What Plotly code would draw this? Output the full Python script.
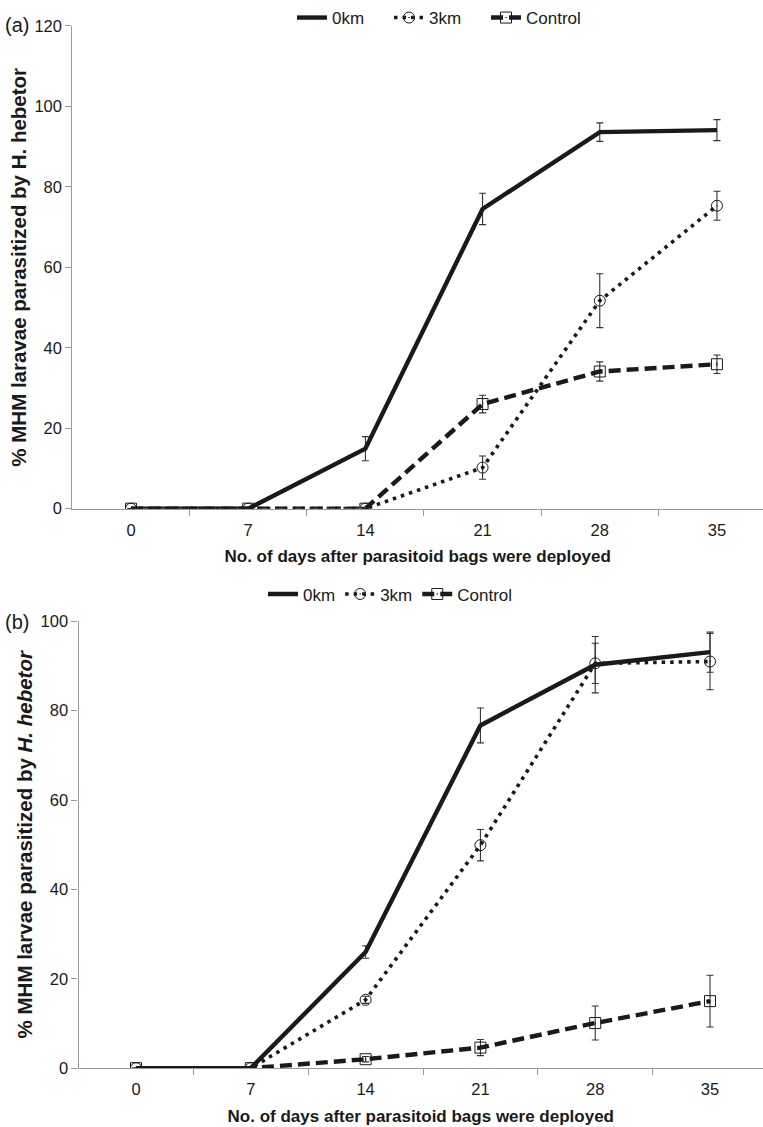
import plotly.graph_objects as go

days = [0, 7, 14, 21, 28, 35]
tick_labels = ["0", "7", "14", "21", "28", "35"]

# Panel (a)
a_0km = [0, 0, 14.9, 74.5, 93.6, 94.1]
a_0km_err = [0, 0, 3.0, 3.9, 2.3, 2.6]
a_3km = [0, 0, 0, 10.2, 51.7, 75.3]
a_3km_err = [0, 0, 0, 2.9, 6.7, 3.6]
a_ctrl = [0, 0, 0, 26.0, 34.1, 35.9]
a_ctrl_err = [0, 0, 0, 2.2, 2.4, 2.3]

# Panel (b)
b_0km = [0, 0, 26.0, 76.7, 90.3, 93.1]
b_0km_err = [0, 0, 1.4, 3.9, 6.3, 4.5]
b_3km = [0, 0, 15.3, 49.9, 90.6, 91.0]
b_3km_err = [0, 0, 0.8, 3.5, 4.5, 6.3]
b_ctrl = [0, 0, 2.0, 4.6, 10.1, 15.0]
b_ctrl_err = [0, 0, 0.6, 1.8, 3.8, 5.8]

W, H = 763, 1127
FONT = "Liberation Sans, Arial, sans-serif"
INK = "#1a1a1a"
AXC = "#9a9a9a"

fig = go.Figure()

styles = {
    "0km": dict(mode="lines", line=dict(color=INK, width=4.4, dash="solid"), marker=None),
    "3km": dict(mode="lines+markers", line=dict(color=INK, width=3.6, dash="3.5px,5px"),
                marker=dict(symbol="circle-open-dot", size=11, color=INK, line=dict(width=1, color=INK))),
    "Control": dict(mode="lines+markers", line=dict(color=INK, width=4.4, dash="12px,6px"),
                    marker=dict(symbol="square-open-dot", size=11, color=INK, line=dict(width=1, color=INK))),
}
rank = {"0km": 1, "3km": 2, "Control": 3}


def add(y, err, name, xa, ya, legend):
    st = styles[name]
    kw = dict(x=days, y=y, name=name, mode=st["mode"], line=st["line"],
              error_y=dict(type="data", array=err, visible=True, color="#333333", thickness=1.1, width=3.5),
              xaxis=xa, yaxis=ya, legend=legend, legendrank=rank[name], showlegend=True)
    if st["marker"] is not None:
        kw["marker"] = st["marker"]
    fig.add_trace(go.Scatter(**kw))


# draw order: 3km, Control, 0km on top
add(a_3km, a_3km_err, "3km", "x", "y", "legend")
add(a_ctrl, a_ctrl_err, "Control", "x", "y", "legend")
add(a_0km, a_0km_err, "0km", "x", "y", "legend")
add(b_3km, b_3km_err, "3km", "x2", "y2", "legend2")
add(b_ctrl, b_ctrl_err, "Control", "x2", "y2", "legend2")
add(b_0km, b_0km_err, "0km", "x2", "y2", "legend2")

between = [3.5, 10.5, 17.5, 24.5, 31.5]

def xaxis(dom, rng, anchor):
    return dict(domain=dom, range=rng, anchor=anchor, showgrid=False, zeroline=False,
                showline=True, linecolor=AXC, linewidth=1.3,
                tickmode="array", tickvals=days, ticktext=tick_labels, ticks="",
                ticklabelstandoff=6,
                tickfont=dict(family=FONT, size=16.5, color=INK),
                minor=dict(tickmode="array", tickvals=between, ticks="outside", ticklen=6,
                           tickcolor=AXC, tickwidth=1.3),
                title=dict(text="<b>No. of days after parasitoid bags were deployed</b>",
                           font=dict(family=FONT, size=17, color=INK), standoff=12),
                automargin=False)


def yaxis(dom, rng, dtick, title, anchor):
    return dict(domain=dom, range=rng, anchor=anchor, showgrid=False, zeroline=False,
                showline=True, linecolor=AXC, linewidth=1.3,
                tickmode="linear", tick0=0, dtick=dtick, ticks="outside", ticklen=6,
                tickcolor=AXC, tickwidth=1.3,
                tickfont=dict(family=FONT, size=16.5, color=INK),
                title=dict(text=title, font=dict(family=FONT, size=20.5, color=INK), standoff=2),
                automargin=False)


fig.update_layout(
    width=W, height=H,
    margin=dict(l=0, r=0, t=0, b=0),
    paper_bgcolor="white", plot_bgcolor="white",
    font=dict(family=FONT, color=INK),
    xaxis=xaxis([72.4 / W, 1], [-3.5, 37.75], "y"),
    yaxis=yaxis([1 - 507 / H, 1 - 23 / H], [0, 120], 20,
                "<b>% MHM laravae parasitized by H. hebetor</b>", "x"),
    xaxis2=xaxis([78.6 / W, 1], [-3.5, 38.23], "y2"),
    yaxis2=yaxis([1 - 1068 / H, 1 - 620 / H], [0, 100], 20,
                 "<b>% MHM larvae parasitized by <i>H. hebetor</i></b>", "x2"),
    legend=dict(orientation="h", x=292 / W, y=1 - 15 / H, xanchor="left", yanchor="middle",
                font=dict(family=FONT, size=17, color=INK), bgcolor="rgba(0,0,0,0)",
                traceorder="normal", entrywidth=52, entrywidthmode="pixels"),
    legend2=dict(orientation="h", x=263 / W, y=1 - 593 / H, xanchor="left", yanchor="middle",
                 font=dict(family=FONT, size=17, color=INK), bgcolor="rgba(0,0,0,0)",
                 traceorder="normal"),
    annotations=[
        dict(text="(a)", x=3 / W, y=1 - 22 / H, xref="paper", yref="paper", xanchor="left",
             yanchor="middle", showarrow=False, font=dict(family=FONT, size=20, color=INK)),
        dict(text="(b)", x=3 / W, y=1 - 621 / H, xref="paper", yref="paper", xanchor="left",
             yanchor="middle", showarrow=False, font=dict(family=FONT, size=20, color=INK)),
    ],
)

fig.write_html("out.html")
